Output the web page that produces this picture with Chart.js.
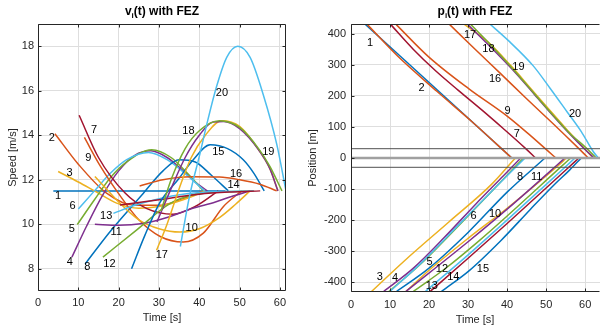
<!DOCTYPE html>
<html>
<head>
<meta charset="utf-8">
<script src="https://cdn.jsdelivr.net/npm/chart.js@4.4.0/dist/chart.umd.min.js"></script>
<style>
  html, body { margin: 0; padding: 0; background: #fff; overflow: hidden; }
  #wrap { position: relative; width: 600px; height: 333px; }
  .box { position: absolute; top: 0; width: 300px; height: 333px; }
  #leftBox { left: 0; }
  #rightBox { left: 300px; }
</style>
</head>
<body>
<div id="wrap">
  <div class="box" id="leftBox"><canvas id="speedChart" width="300" height="333"></canvas></div>
  <div class="box" id="rightBox"><canvas id="posChart" width="300" height="333"></canvas></div>
</div>
<script>
// vehicle numbers and axis ticks
const vehicleIds = ['1', '2', '3', '4', '5', '6', '7', '8', '9', '10',
                    '11', '12', '13', '14', '15', '16', '17', '18', '19', '20'];
const timeTicks = [0, 10, 20, 30, 40, 50, 60];
const speedTicks = [8, 10, 12, 14, 16, 18];
const posTicks = [-400, -300, -200, -100, 0, 100, 200, 300, 400];
const fezLevels = [30, 0, -30];

// speed profiles v_i(t), one row per vehicle (time [s] / speed [m/s])
const speedT = [
    [3.8, 46.5],
    [4.2, 10, 17, 24, 30, 36, 41],
    [5, 10, 14, 19.5, 25, 30, 36, 41.5],
    [8.4, 12, 16, 20, 24, 28, 32, 36, 39, 42],
    [9.75, 14, 18, 22, 28.2, 33, 37, 41],
    [10, 14, 18, 22, 27.4, 32, 37, 41.3],
    [10.2, 15, 21.6, 27, 33.5, 39, 44.7],
    [11.7, 18, 25.7, 31, 35, 39, 43, 47.2],
    [11.5, 15.5, 19.9, 25, 30.3, 36, 41, 46, 50.5],
    [14.1, 20, 25, 30, 35.2, 40, 45, 49, 52.6],
    [14.1, 20, 26, 32, 38, 44, 48, 52.6],
    [16.1, 24.5, 32.8, 38, 45, 53.5],
    [18.7, 24, 30.3, 36, 42, 53.5],
    [20.3, 30, 40, 48, 55.1],
    [23.2, 26.5, 30.3, 34.7, 38.5, 42.7, 47, 50.9, 53.5, 56.1],
    [25.2, 31, 38, 45, 50, 55, 59.2],
    [29.4, 32, 35, 38, 41.5, 45.5, 50, 54.7, 57.5, 59.5],
    [29.5, 33, 36.5, 40, 43.4, 46, 50, 54.7, 57.5, 59.5],
    [30.5, 33, 36.5, 40, 45, 50, 54.7, 57.5, 60.5],
    [35.3, 37.5, 40.2, 42, 44.3, 46.8, 49.55, 52.6, 55.9, 59.2, 61.5]
];
const speedV = [
    [11.5, 11.5],
    [14.07, 12.7, 11.4, 10.85, 10.85, 11.15, 11.5],
    [12.37, 11.9, 11.5, 10.95, 10.72, 10.8, 11.1, 11.5],
    [8.52, 9.9, 11.3, 12.4, 13.1, 13.3, 13.0, 12.4, 11.9, 11.5],
    [9.99, 11.1, 12.1, 12.8, 13.35, 13.0, 12.3, 11.5],
    [10.68, 11.5, 12.3, 12.9, 13.22, 12.9, 12.2, 11.5],
    [14.9, 13.0, 11.4, 10.7, 10.45, 10.8, 11.5],
    [8.22, 9.7, 11.3, 12.4, 12.9, 12.8, 12.2, 11.5],
    [13.9, 12.6, 11.4, 10.2, 9.45, 9.2, 9.6, 10.8, 11.5],
    [12.15, 11.0, 10.2, 9.8, 9.65, 9.8, 10.3, 10.9, 11.5],
    [10.0, 9.95, 10.03, 10.3, 10.7, 11.0, 11.25, 11.5],
    [8.52, 9.75, 10.94, 11.3, 11.45, 11.5],
    [10.49, 10.85, 11.16, 11.35, 11.45, 11.5],
    [10.86, 11.1, 11.35, 11.45, 11.5],
    [8.0, 9.5, 11.0, 12.0, 12.9, 13.57, 13.4, 12.9, 12.3, 11.5],
    [11.72, 12.0, 12.13, 12.12, 12.0, 11.8, 11.5],
    [8.83, 10.0, 11.6, 13.0, 14.0, 14.65, 14.4, 13.35, 12.5, 11.5],
    [10.1, 11.6, 13.0, 14.0, 14.6, 14.62, 14.3, 13.35, 12.5, 11.5],
    [10.6, 12.0, 13.4, 14.2, 14.65, 14.35, 13.4, 12.6, 11.5],
    [9.0, 11.2, 13.2, 14.6, 16.2, 17.5, 18.0, 17.5, 15.8, 13.6, 11.5]
];

// position profiles p_i(t), one row per vehicle (time [s] / position [m])
const posT = [
    [2, 41.2],
    [4.2, 12, 22, 31, 41.2],
    [5.3, 14, 25, 36, 42.1],
    [8.4, 16, 24, 32, 39, 43.5],
    [9.75, 18, 28.2, 37, 44.2],
    [10, 18, 27.4, 37, 44.6],
    [10.2, 16, 21.6, 27.5, 33.5, 39, 44.7, 47.3],
    [11.7, 20, 30, 40, 49.7],
    [11.6, 19.9, 30.3, 40, 46, 50.5, 52.5],
    [14.1, 20, 30, 40, 52.6, 55.2],
    [14.1, 30, 40, 52.6, 54.8],
    [16, 24.5, 32.8, 40, 53.5, 56.3],
    [19.1, 30.3, 42, 53.5, 57.4],
    [20.3, 30, 40, 55.1, 58.4],
    [23.2, 30.3, 38.5, 46, 52, 56, 59],
    [25.3, 31, 38, 45, 52, 58, 60.8],
    [28.8, 35, 41, 46, 51, 55, 59.5, 62],
    [29.7, 35.2, 41.6, 47, 52, 56, 59.5, 62.3],
    [30.5, 36, 42, 47, 52, 56, 60.5, 62.8],
    [35.5, 40.2, 46.7, 51, 55.3, 59, 62.1, 63.4]
];
const posP = [
    [450, 0],
    [430, 328, 215, 117, 0],
    [-430, -328, -207, -85, 0],
    [-430, -355, -255, -148, -58, 0],
    [-430, -340, -210, -95, 0],
    [-430, -338, -218, -95, 0],
    [430, 350, 282, 218, 155, 95, 31, 0],
    [-430, -355, -240, -110, 0],
    [430, 326, 222, 135, 72, 22, 0],
    [-430, -362, -259, -162, -30, 0],
    [-430, -270, -165, -25, 0],
    [-430, -353, -267, -187, -32, 0],
    [-430, -309, -177, -45, 0],
    [-430, -323, -211, -38, 0],
    [-430, -363, -265, -165, -87, -39, 0],
    [430, 360, 276, 191, 108, 35, 0],
    [433, 375, 297, 225, 153, 96, 35, 0],
    [433, 365, 282, 205, 133, 78, 33, 0],
    [433, 362, 280, 207, 135, 80, 30, 0],
    [433, 380, 297, 225, 150, 85, 20, 0]
];

// where the vehicle numbers sit, in data units
const speedLabelT = [5.0, 3.4, 7.8, 7.9, 8.4, 8.6, 13.9, 12.2, 12.5, 38.1,
                     19.4, 17.7, 16.9, 48.5, 44.7, 49.1, 30.7, 37.3, 57.1, 45.6];
const speedLabelV = [11.27, 13.87, 12.29, 8.3, 9.8, 10.83, 14.25, 8.07, 12.97, 9.83,
                     9.65, 8.23, 10.36, 11.76, 13.27, 12.26, 8.6, 14.2, 13.27, 15.9];
const posLabelT = [4.9, 18.1, 7.4, 11.3, 20.1, 31.4, 42.5, 43.3, 40.1, 36.9,
                   47.6, 23.3, 20.7, 26.2, 33.8, 36.9, 30.5, 35.2, 42.9, 57.4];
const posLabelP = [372, 227, -384, -387, -334, -188, 77, -62, 152, -180,
                   -62, -357, -414, -384, -357, 256, 396, 351, 292, 142];

const matlabColors = ['#0072BD', '#D95319', '#EDB120', '#7E2F8E', '#77AC30', '#4DBEEE', '#A2142F'];
const FONT = '"Liberation Sans", Arial, Helvetica, sans-serif';

function vehicleSets(tRows, yRows) {
    return vehicleIds.map((id, i) => ({
        label: id,
        data: tRows[i].map((t, k) => ({ x: t, y: yRows[i][k] })),
        borderColor: matlabColors[i % 7],
        borderWidth: 1.5,
        pointRadius: 0,
        fill: false,
        cubicInterpolationMode: 'monotone',
        order: 40 - i
    }));
}

// box, inward ticks, titles, axis names and curve numbers (MATLAB look)
function framePlugin(cfg) {
    return {
        id: 'frame',
        afterDraw(chart) {
            const ctx = chart.ctx;
            const a = chart.chartArea;
            const xs = chart.scales.x, ys = chart.scales.y;
            ctx.save();

            // curve numbers
            ctx.fillStyle = '#000';
            ctx.font = '11px ' + FONT;
            ctx.textAlign = 'center';
            ctx.textBaseline = 'middle';
            cfg.labelX.forEach((t, k) => {
                ctx.fillText(vehicleIds[k], xs.getPixelForValue(t), ys.getPixelForValue(cfg.labelY[k]));
            });

            // axes box
            ctx.strokeStyle = '#262626';
            ctx.lineWidth = 1;
            const L = Math.round(a.left) + 0.5, R = Math.round(a.right) - 0.5;
            const T = Math.round(a.top) + 0.5, B = Math.round(a.bottom) - 0.5;
            ctx.beginPath();
            ctx.moveTo(L, T); ctx.lineTo(L, B); ctx.lineTo(R, B);
            ctx.moveTo(L, T); ctx.lineTo(R, T);
            if (cfg.rightEdge) { ctx.moveTo(R, T); ctx.lineTo(R, B); }
            ctx.stroke();

            // inward tick marks
            ctx.beginPath();
            cfg.xTicks.forEach(v => {
                const px = Math.round(xs.getPixelForValue(v)) + 0.5;
                ctx.moveTo(px, B); ctx.lineTo(px, B - 3);
                ctx.moveTo(px, T); ctx.lineTo(px, T + 3);
            });
            cfg.yTicks.forEach(v => {
                const py = Math.round(ys.getPixelForValue(v)) + 0.5;
                ctx.moveTo(L, py); ctx.lineTo(L + 3, py);
                if (cfg.rightEdge) { ctx.moveTo(R, py); ctx.lineTo(R - 3, py); }
            });
            ctx.stroke();

            // title with subscript i
            const cx = (a.left + cfg.titleRight) / 2;
            ctx.fillStyle = '#000';
            ctx.textAlign = 'left';
            ctx.textBaseline = 'alphabetic';
            const big = 'bold 12px ' + FONT, small = 'bold 8px ' + FONT;
            ctx.font = big;
            const w1 = ctx.measureText(cfg.title[0]).width;
            const w3 = ctx.measureText(cfg.title[2]).width;
            ctx.font = small;
            const w2 = ctx.measureText(cfg.title[1]).width;
            let x0 = cx - (w1 + w2 + w3) / 2;
            ctx.font = big;
            ctx.fillText(cfg.title[0], x0, 15);
            ctx.font = small;
            ctx.fillText(cfg.title[1], x0 + w1, 18);
            ctx.font = big;
            ctx.fillText(cfg.title[2], x0 + w1 + w2, 15);

            // axis names
            ctx.fillStyle = '#262626';
            ctx.font = '11px ' + FONT;
            ctx.textAlign = 'center';
            ctx.textBaseline = 'middle';
            ctx.fillText('Time [s]', cx, cfg.xNameY);
            ctx.translate(cfg.yNameX, (a.top + a.bottom) / 2);
            ctx.rotate(-Math.PI / 2);
            ctx.fillText(cfg.yName, 0, 0);
            ctx.restore();
        }
    };
}

function axisOptions(min, max, ticks, size, isY, pad) {
    return {
        type: 'linear',
        min: min,
        max: max,
        afterFit: s => { if (isY) { s.width = size; } else { s.height = size; } },
        afterBuildTicks: s => { s.ticks = ticks.map(v => ({ value: v })); },
        grid: { color: '#dedede', lineWidth: 1, drawTicks: false },
        border: { display: false },
        ticks: { padding: pad, color: '#262626', font: { size: 11, family: FONT } }
    };
}

const speedCtx = document.getElementById('speedChart').getContext('2d');
const speedChart = new Chart(speedCtx, {
    type: 'line',
    data: { datasets: vehicleSets(speedT, speedV) },
    options: {
        responsive: false,
        animation: false,
        layout: { padding: { top: 24, right: 14, left: 0, bottom: 0 } },
        plugins: { legend: { display: false }, tooltip: { enabled: false } },
        scales: {
            x: axisOptions(0, 61.5, timeTicks, 42, false, 5),
            y: axisOptions(7, 19, speedTicks, 38, true, 4)
        }
    },
    plugins: [framePlugin({
        labelX: speedLabelT, labelY: speedLabelV,
        xTicks: timeTicks, yTicks: speedTicks, rightEdge: true,
        title: ['v', 'i', '(t) with FEZ'], titleRight: 286,
        yName: 'Speed [m/s]', yNameX: 13, xNameY: 318
    })]
});

const posSets = vehicleSets(posT, posP);
fezLevels.forEach((lvl, k) => {
    posSets.push({
        label: 'FEZ ' + lvl,
        data: [{ x: 0, y: lvl }, { x: 64, y: lvl }],
        borderColor: lvl === 0 ? '#a0a0a0' : '#505050',
        borderWidth: lvl === 0 ? 2.5 : 1,
        pointRadius: 0,
        fill: false,
        order: k
    });
});

const posCtx = document.getElementById('posChart').getContext('2d');
const posChart = new Chart(posCtx, {
    type: 'line',
    data: { datasets: posSets },
    options: {
        responsive: false,
        animation: false,
        layout: { padding: { top: 24, right: 0, left: 0, bottom: 0 } },
        plugins: { legend: { display: false }, tooltip: { enabled: false } },
        scales: {
            x: axisOptions(0, 63.8, timeTicks, 41, false, 6),
            y: axisOptions(-432, 432, posTicks, 51, true, 5)
        }
    },
    plugins: [framePlugin({
        labelX: posLabelT, labelY: posLabelP,
        xTicks: timeTicks, yTicks: posTicks, rightEdge: false,
        title: ['p', 'i', '(t) with FEZ'], titleRight: 299,
        yName: 'Position [m]', yNameX: 13, xNameY: 320
    })]
});
</script>
</body>
</html>
